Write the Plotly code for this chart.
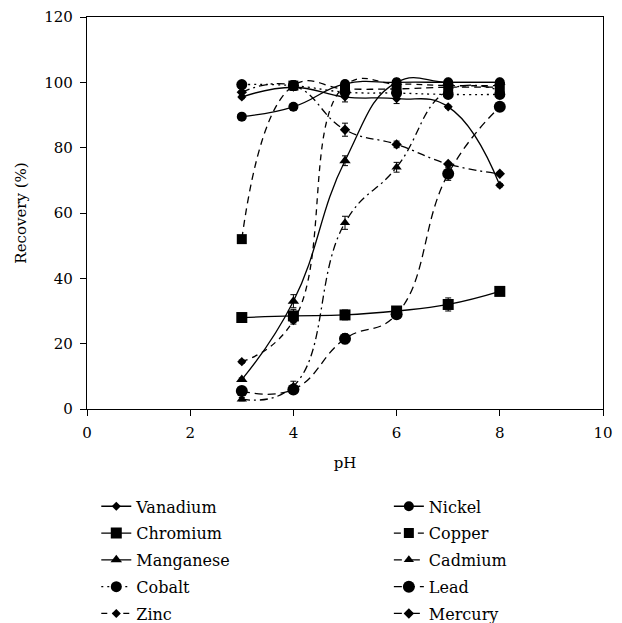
import plotly.graph_objects as go

ph = [3, 4, 5, 6, 7, 8]

# Recovery (%) of each metal vs pH
vanadium = [95.5, 98.5, 95.5, 95.0, 92.5, 68.5]
chromium = [28.0, 28.5, 28.8, 30.0, 32.0, 36.0]
manganese = [9.0, 33.0, 76.0, 100.0, 100.0, 100.0]
cobalt = [99.3, 99.0, 97.0, 96.7, 96.3, 96.3]
zinc = [14.5, 27.0, 99.0, 99.5, 99.0, 99.0]
nickel = [89.5, 92.5, 99.5, 100.0, 100.0, 100.0]
copper = [52.0, 99.0, 98.0, 98.0, 98.5, 98.5]
cadmium = [3.0, 7.0, 57.0, 74.0, 97.5, 97.5]
lead = [5.5, 6.0, 21.5, 29.0, 72.0, 92.5]
mercury = [97.0, 99.0, 85.5, 81.0, 75.0, 72.0]

# Standard deviations
vanadium_err = [0.5, 1.0, 1.5, 1.5, 0.5, 0.5]
chromium_err = [0.5, 2.0, 1.5, 1.0, 2.0, 0.5]
manganese_err = [0.5, 2.0, 1.5, 1.0, 0.5, 0.5]
cobalt_err = [0.5, 1.0, 1.0, 1.0, 0.5, 0.5]
zinc_err = [0.5, 1.0, 1.5, 1.0, 0.5, 0.5]
nickel_err = [0.5, 1.0, 1.0, 1.0, 0.5, 0.5]
copper_err = [0.5, 1.5, 1.0, 1.0, 0.5, 0.5]
cadmium_err = [0.5, 1.5, 2.0, 1.5, 0.5, 0.5]
lead_err = [0.5, 1.0, 1.5, 1.0, 2.0, 0.5]
mercury_err = [0.5, 1.0, 2.0, 1.0, 0.5, 0.5]

FONT = "DejaVu Serif"

series = [
    # name, values, errors, symbol, size, dash, legend
    ("Vanadium", vanadium, vanadium_err, "diamond", 7, "solid", "legend"),
    ("Chromium", chromium, chromium_err, "square", 11, "solid", "legend"),
    ("Manganese", manganese, manganese_err, "triangle-up", 10, "solid", "legend"),
    ("Cobalt", cobalt, cobalt_err, "circle", 11, "2px,4px", "legend"),
    ("Zinc", zinc, zinc_err, "diamond", 7, "6px,5px", "legend"),
    ("Nickel", nickel, nickel_err, "circle", 10, "solid", "legend2"),
    ("Copper", copper, copper_err, "square", 10, "7px,5px", "legend2"),
    ("Cadmium", cadmium, cadmium_err, "triangle-up", 9, "8px,4px,2px,4px", "legend2"),
    ("Lead", lead, lead_err, "circle", 12, "8px,5px", "legend2"),
    ("Mercury", mercury, mercury_err, "diamond", 8, "8px,4px,2px,4px", "legend2"),
]

fig = go.Figure()
for name, vals, errs, sym, size, dash, leg in series:
    fig.add_trace(go.Scatter(
        x=ph, y=vals, name=name, mode="lines+markers",
        line=dict(color="black", width=1.3, dash=dash, shape="spline", smoothing=1.3),
        marker=dict(symbol=sym, size=size, color="black"),
        error_y=dict(type="data", array=errs, visible=True, color="black",
                     thickness=1, width=3),
        legend=leg, legendgroup=name,
    ))

axis_common = dict(
    showline=True, linecolor="black", linewidth=1.2, mirror=True,
    ticks="outside", ticklen=6, tickcolor="black", tickwidth=1.2,
    ticklabelstandoff=4,
    showgrid=False, zeroline=False,
    tickfont=dict(family=FONT, size=15, color="black"),
)

legend_common = dict(
    orientation="v", xanchor="left", yanchor="top",
    font=dict(family=FONT, size=16, color="black"),
    bgcolor="rgba(0,0,0,0)", tracegroupgap=3, itemwidth=30,
)

fig.update_layout(
    width=622, height=623,
    margin=dict(l=87, r=19, t=17, b=214, autoexpand=False),
    plot_bgcolor="white", paper_bgcolor="white",
    font=dict(family=FONT, size=15, color="black"),
    xaxis=dict(range=[0, 10], tickvals=[0, 2, 4, 6, 8, 10],
               title=dict(text="pH", font=dict(family=FONT, size=15), standoff=16),
               **axis_common),
    yaxis=dict(range=[0, 120], tickvals=[0, 20, 40, 60, 80, 100, 120],
               title=dict(text="Recovery (%)", font=dict(family=FONT, size=15), standoff=14),
               **axis_common),
    legend=dict(x=0.018, y=-0.205, **legend_common),
    legend2=dict(x=0.585, y=-0.205, **legend_common),
)

fig.write_html("out.html")
